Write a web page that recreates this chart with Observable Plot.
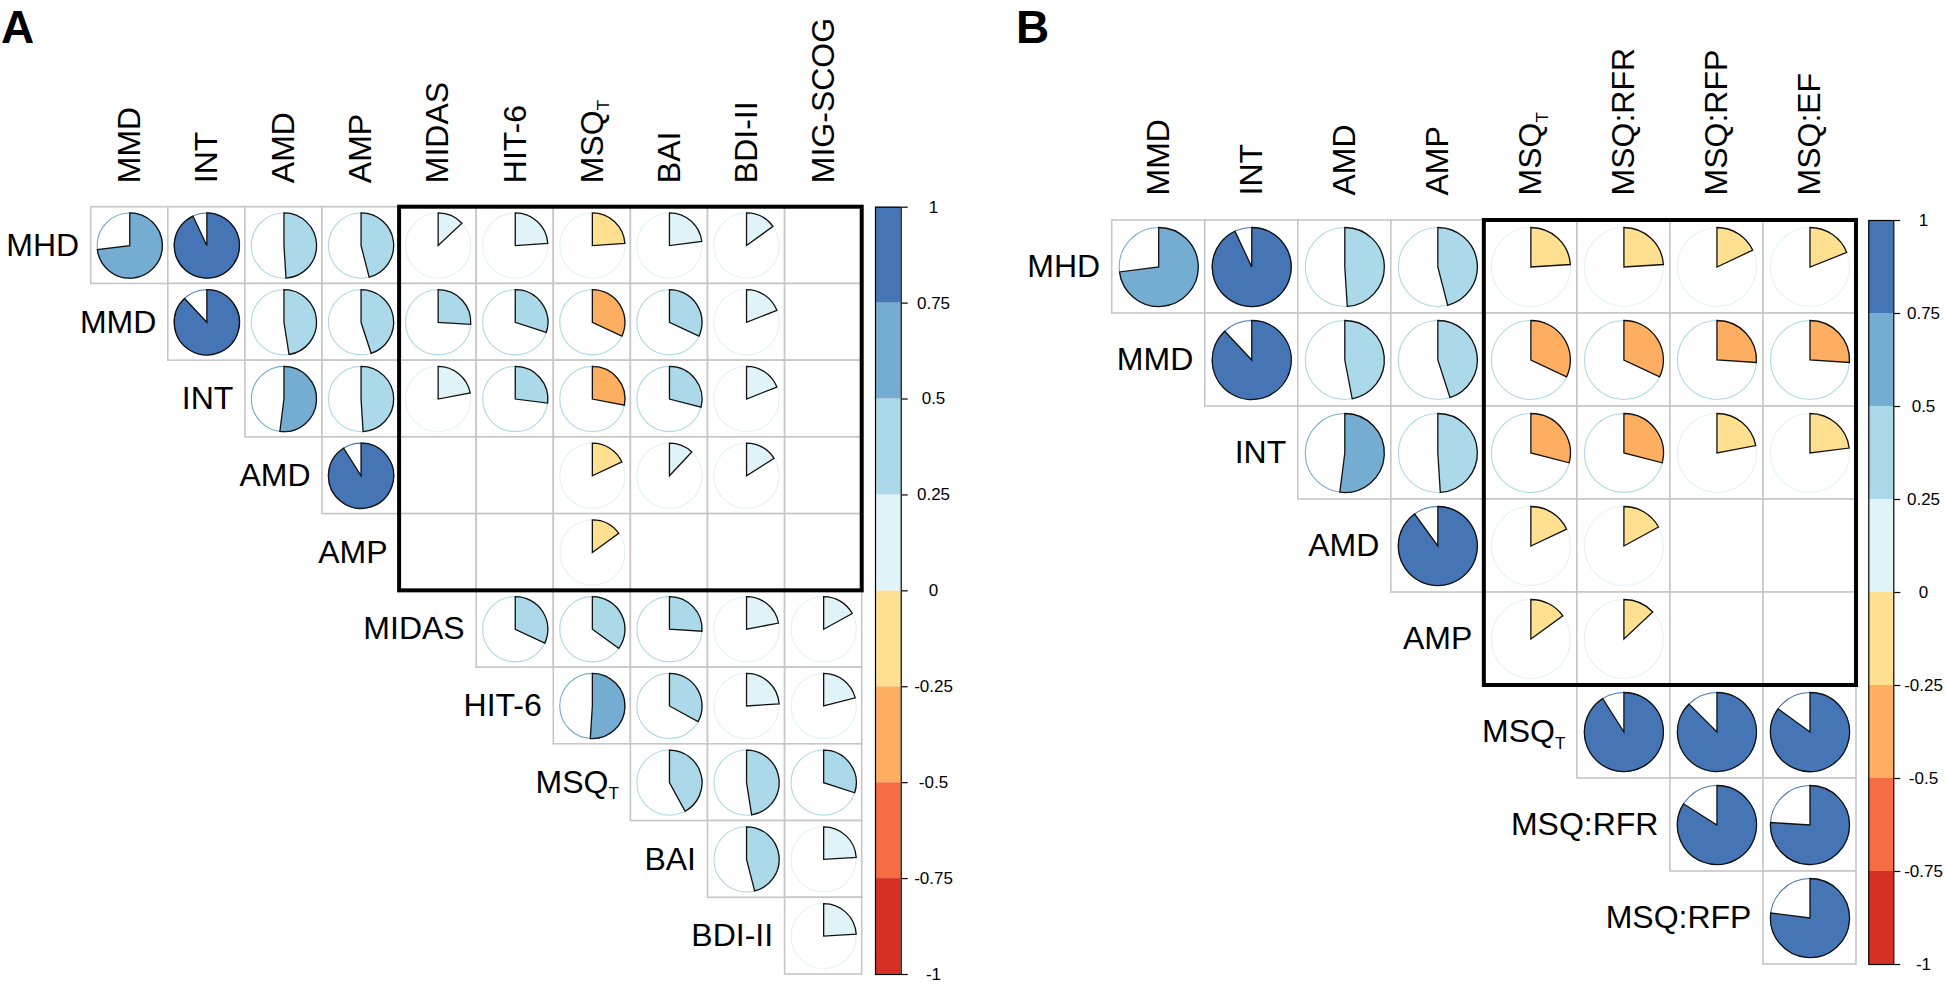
<!DOCTYPE html>
<html>
<head>
<meta charset="utf-8">
<script src="https://cdn.jsdelivr.net/npm/d3@7"></script>
<script src="https://cdn.jsdelivr.net/npm/@observablehq/plot@0.6"></script>
<style>
html, body { margin: 0; padding: 0; background: #fff; }
#root { position: relative; width: 1946px; height: 986px; overflow: hidden; font-family: "Liberation Sans", Arial, sans-serif; }
.pane { position: absolute; top: 0; }
.letter { position: absolute; top: 4px; font: bold 46px/46px "Liberation Sans", Arial, sans-serif; color: #000; }
</style>
</head>
<body>
<div id="root"></div>
<script>
// ---------- Panel A ----------
const colsA = ["MMD", "INT", "AMD", "AMP", "MIDAS", "HIT-6", "MSQ_T", "BAI", "BDI-II", "MIG-SCOG"];
const rowsA = ["MHD", "MMD", "INT", "AMD", "AMP", "MIDAS", "HIT-6", "MSQ_T", "BAI", "BDI-II"];
// each row starts at the column with the same index (upper triangle); null = not shown
const rA_MHD   = [0.73, 0.93, 0.49, 0.46, 0.13, 0.24, -0.24, 0.23, 0.15, null];
const rA_MMD   = [0.88, 0.475, 0.45, 0.26, 0.30, -0.32, 0.32, 0.19, null];
const rA_INT   = [0.52, 0.49, 0.22, 0.27, -0.28, 0.29, 0.19, null];
const rA_AMD   = [0.91, null, null, -0.18, 0.12, 0.16, null];
const rA_AMP   = [null, null, -0.15, null, null, null];
const rA_MIDAS = [0.32, 0.35, 0.26, 0.22, 0.17];
const rA_HIT6  = [0.51, 0.33, 0.24, 0.21];
const rA_MSQT  = [0.42, 0.475, 0.30];
const rA_BAI   = [0.46, 0.24];
const rA_BDI   = [0.24];
const boxColsA = ["MIDAS", "MIG-SCOG"];
const boxRowsA = ["MHD", "AMP"];

// ---------- Panel B ----------
const colsB = ["MMD", "INT", "AMD", "AMP", "MSQ_T", "MSQ:RFR", "MSQ:RFP", "MSQ:EF"];
const rowsB = ["MHD", "MMD", "INT", "AMD", "AMP", "MSQ_T", "MSQ:RFR", "MSQ:RFP"];
const rB_MHD  = [0.73, 0.93, 0.49, 0.46, -0.24, -0.24, -0.18, -0.19];
const rB_MMD  = [0.88, 0.47, 0.45, -0.32, -0.32, -0.26, -0.26];
const rB_INT  = [0.52, 0.49, -0.29, -0.29, -0.22, -0.23];
const rB_AMD  = [0.90, -0.18, -0.17, null, null];
const rB_AMP  = [-0.15, -0.13, null, null];
const rB_MSQT = [0.91, 0.875, 0.85];
const rB_RFR  = [0.84, 0.76];
const rB_RFP  = [0.77];
const boxColsB = ["MSQ_T", "MSQ:EF"];
const boxRowsB = ["MHD", "AMP"];

// ---------- Colour legend ----------
const binThresholds = [-0.75, -0.5, -0.25, 0, 0.25, 0.5, 0.75];
const binColors = ["#d73027", "#f46d43", "#fdae61", "#fee090", "#e0f3f8", "#abd9e9", "#74add1", "#4575b4"];
const legendTicks = [1, 0.75, 0.5, 0.25, 0, -0.25, -0.5, -0.75, -1];

const valuesA = [rA_MHD, rA_MMD, rA_INT, rA_AMD, rA_AMP, rA_MIDAS, rA_HIT6, rA_MSQT, rA_BAI, rA_BDI];
const valuesB = [rB_MHD, rB_MMD, rB_INT, rB_AMD, rB_AMP, rB_MSQT, rB_RFR, rB_RFP];

const colorScale = {type: "threshold", domain: binThresholds, range: binColors};
const FONT = "Liberation Sans, Arial, sans-serif";

// pie sector symbol: starts at 12 o'clock, goes clockwise by |r| * 360°
const sector = v => ({
  draw(ctx, size) {
    const R = Math.sqrt(size / Math.PI);
    const a = Math.abs(v) * 2 * Math.PI;
    ctx.moveTo(0, 0);
    ctx.lineTo(0, -R);
    ctx.arc(0, 0, R, -Math.PI / 2, -Math.PI / 2 + a, false);
    ctx.closePath();
  }
});

function corrPanel({cols, rows, values, boxCols, boxRows, width, height, gridLeft, gridRight, gridTop, gridBottom, colGap, rowGap, fontSize}) {
  const nC = cols.length, nR = rows.length;
  const cells = [];
  values.forEach((row, i) => row.forEach((v, k) => cells.push({i, j: i + k, v})));
  const filled = cells.filter(d => d.v != null);
  const cw = (gridRight - gridLeft) / nC, ch = (gridBottom - gridTop) / nR;
  const R = 0.425 * Math.min(cw, ch);
  const box = [{
    c0: cols.indexOf(boxCols[0]), c1: cols.indexOf(boxCols[1]) + 1,
    r0: rows.indexOf(boxRows[0]), r1: rows.indexOf(boxRows[1]) + 1
  }];
  return Plot.plot({
    width, height,
    marginLeft: gridLeft, marginRight: width - gridRight,
    marginTop: gridTop, marginBottom: height - gridBottom,
    x: {type: "linear", domain: [0, nC], axis: null},
    y: {type: "linear", domain: [0, nR], reverse: true, axis: null},
    color: colorScale,
    style: {fontFamily: FONT, background: "none", overflow: "visible"},
    marks: [
      Plot.rect(cells, {x1: d => d.j, x2: d => d.j + 1, y1: d => d.i, y2: d => d.i + 1,
        fill: "white", stroke: "#c6c6c6", strokeWidth: 1.6}),
      Plot.dot(filled, {x: d => d.j + 0.5, y: d => d.i + 0.5, r: R,
        fill: "white", stroke: d => Math.abs(d.v), strokeWidth: 1.1}),
      Plot.dot(filled, {x: d => d.j + 0.5, y: d => d.i + 0.5, r: R,
        symbol: d => sector(d.v), fill: d => d.v, stroke: "#111", strokeWidth: 1.3}),
      Plot.rect(box, {x1: d => d.c0, x2: d => d.c1, y1: d => d.r0, y2: d => d.r1,
        fill: "none", stroke: "black", strokeWidth: 4}),
      Plot.text(rows, {x: (d, i) => i, y: (d, i) => i + 0.5, text: d => d,
        textAnchor: "end", dx: -rowGap, fontSize, fill: "black", lineAnchor: "middle"}),
      Plot.text(cols, {x: (d, i) => i + 0.5, y: () => 0, text: d => d, rotate: -90,
        textAnchor: "start", dy: -colGap, fontSize, fill: "black", lineAnchor: "middle"})
    ]
  });
}

function colorBar({width, height, barLeft, barWidth, top, bottom, labelOffset}) {
  const bins = binColors.map((c, k) => ({lo: -1 + k * 0.25, hi: -0.75 + k * 0.25}));
  return Plot.plot({
    width, height,
    marginLeft: barLeft, marginRight: width - barLeft - barWidth,
    marginTop: top, marginBottom: height - bottom,
    x: {type: "linear", domain: [0, 1], axis: null},
    y: {type: "linear", domain: [-1, 1], axis: null},
    color: colorScale,
    style: {fontFamily: FONT, background: "none", overflow: "visible"},
    marks: [
      Plot.rect(bins, {x1: () => 0, x2: () => 1, y1: d => d.lo, y2: d => d.hi, fill: d => (d.lo + d.hi) / 2}),
      Plot.frame({stroke: "black", strokeWidth: 1.2}),
      Plot.axisY({anchor: "right", ticks: legendTicks, tickSize: 6, tickFormat: () => "", label: null, strokeWidth: 1.2}),
      Plot.text(legendTicks, {y: d => d, text: d => String(d), frameAnchor: "right", dx: labelOffset,
        textAnchor: "middle", fontSize: 17, fill: "black", lineAnchor: "middle"})
    ]
  });
}

const root = document.getElementById("root");
function place(node, left, width) {
  const div = document.createElement("div");
  div.className = "pane";
  div.style.left = left + "px";
  div.style.width = width + "px";
  div.appendChild(node);
  root.appendChild(div);
}

// Panel A
place(corrPanel({cols: colsA, rows: rowsA, values: valuesA, boxCols: boxColsA, boxRows: boxRowsA,
  width: 870, height: 986, gridLeft: 90.7, gridRight: 861.7, gridTop: 206.7, gridBottom: 974,
  colGap: 24, rowGap: 12, fontSize: 32}), 0, 870);
place(colorBar({width: 100, height: 986, barLeft: 15, barWidth: 25.7, top: 206.7, bottom: 974, labelOffset: 32.3}), 860, 100);

// Panel B
place(corrPanel({cols: colsB, rows: rowsB, values: valuesB, boxCols: boxColsB, boxRows: boxRowsB,
  width: 900, height: 986, gridLeft: 151.7, gridRight: 896, gridTop: 220, gridBottom: 964,
  colGap: 25, rowGap: 12, fontSize: 32}), 960, 900);
place(colorBar({width: 86, height: 986, barLeft: 8.3, barWidth: 25, top: 220, bottom: 964, labelOffset: 29.7}), 1860, 86);

// panel letters
[["A", 1], ["B", 1016]].forEach(([t, x]) => {
  const d = document.createElement("div");
  d.className = "letter";
  d.style.left = x + "px";
  d.textContent = t;
  root.appendChild(d);
});

// subscript T in MSQ_T labels
d3.selectAll("#root svg text").each(function () {
  if (this.textContent === "MSQ_T") {
    const first = this.querySelector("tspan");
    const target = first ? d3.select(first) : d3.select(this);
    target.text("MSQ").append("tspan").attr("font-size", 17).attr("dy", 6.5).text("T");
  }
});
</script>
</body>
</html>
